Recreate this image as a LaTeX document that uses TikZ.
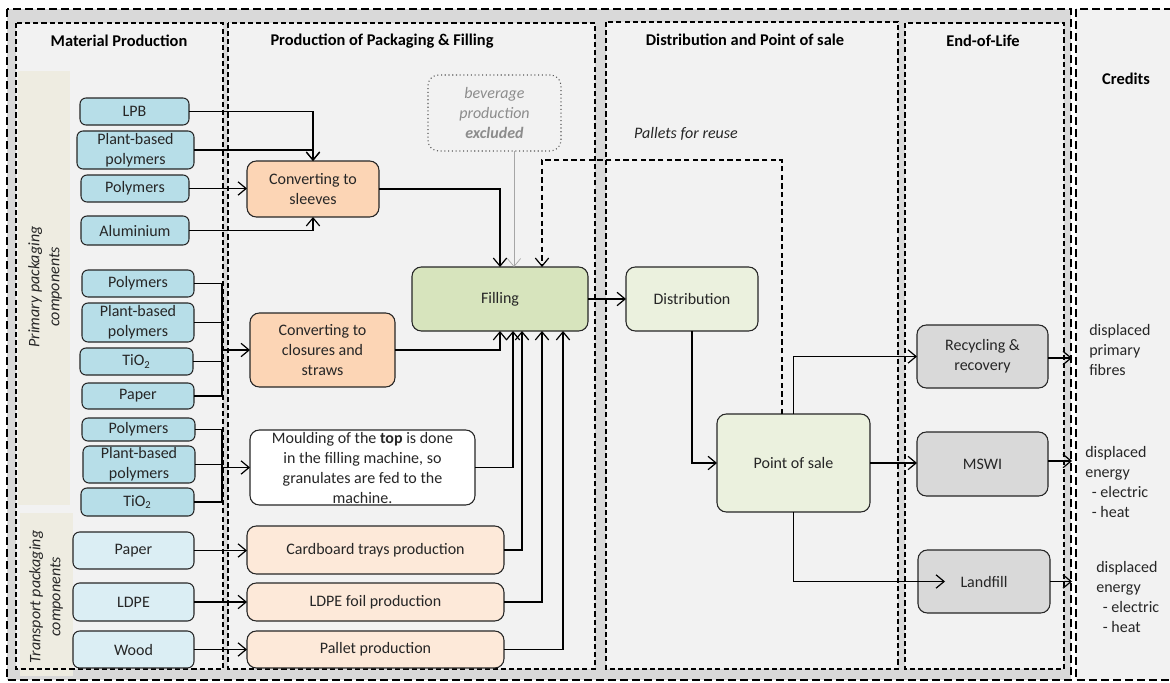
\documentclass[tikz,border=0pt]{standalone}
\usepackage{fontspec}
\setmainfont{Carlito}
\usetikzlibrary{arrows.meta,calc}
\definecolor{outerg}{HTML}{D9D9D9}
\definecolor{panelc}{HTML}{F2F2F2}
\definecolor{beigec}{HTML}{EEECE1}
\definecolor{bluec}{HTML}{B7DEE8}
\definecolor{lbluec}{HTML}{DBEEF4}
\definecolor{orangec}{HTML}{FCD5B5}
\definecolor{lorangec}{HTML}{FDE9D9}
\definecolor{greenc}{HTML}{D7E4BD}
\definecolor{lgreenc}{HTML}{EBF1DE}
\definecolor{grayc}{HTML}{D9D9D9}
\definecolor{txtc}{HTML}{262626}
\definecolor{bdrc}{HTML}{262626}
\definecolor{bevtxt}{HTML}{8C8C8C}
\definecolor{bevbdr}{HTML}{595959}
\newcommand\pbox[7]{\node[#2, minimum width={(#5-(#3))*0.75pt}, minimum height={(#6-(#4))*0.75pt}] (#1) at ({(#3+#5)/2},{(#4+#6)/2}) {#7};}
\tikzset{
  every node/.style={font=\fontsize{12}{15}\selectfont, text=txtc},
  procbox/.style={rounded corners=7pt, draw=bdrc, line width=0.8pt, inner sep=0pt, outer sep=0pt, align=center},
  matbox/.style={procbox, rounded corners=4.5pt, fill=bluec},
  tmatbox/.style={procbox, rounded corners=5pt, fill=lbluec},
  orbox/.style={procbox, fill=orangec},
  lorbox/.style={procbox, fill=lorangec},
  whbox/.style={procbox, fill=white},
  grbox/.style={procbox, fill=greenc},
  lgrbox/.style={procbox, fill=lgreenc},
  eolbox/.style={procbox, fill=grayc},
  bevbox/.style={rounded corners=8pt, draw=bevbdr, dotted, line width=0.8pt, inner sep=0pt, outer sep=0pt, align=center, text=bevtxt, font=\itshape\fontsize{12}{15}\selectfont},
  hdr/.style={font=\bfseries\fontsize{12.3}{14}\selectfont, text=black},
  sidelab/.style={rotate=90, align=center, font=\itshape\fontsize{12}{15}\selectfont},
  outerdash/.style={line width=0.9pt, dash pattern=on 6pt off 3pt, draw=black},
  paneldash/.style={line width=0.8pt, dash pattern=on 3.8pt off 2.3pt, draw=black},
  conn/.style={line width=0.9pt, draw=black},
  arr/.style={conn, -{Straight Barb[length=6pt,width=10pt,line width=0.9pt]}},
  dasharr/.style={arr, dash pattern=on 4pt off 2.5pt},
  grayarr/.style={line width=0.5pt, draw=black!35, -{Straight Barb[length=6pt,width=10pt,line width=0.5pt]}},
  credtxt/.style={align=left, anchor=west, inner sep=0pt, font=\fontsize{12}{15}\selectfont}
}
\begin{document}
\begin{tikzpicture}[x=0.75pt,y=-0.75pt]
\useasboundingbox (0,0) rectangle (1170,682);
\fill[white] (0,0) rectangle (1170,682);
% outer frames
\draw[outerdash, fill=outerg] (7,9) rectangle (1071,680);
\draw[outerdash, fill=panelc] (1076,9) rectangle (1185,680);
% panels
\fill[panelc] (16,23) rectangle (223,669);
\fill[panelc] (228,23) rectangle (595,669);
\fill[panelc] (606,22) rectangle (898,669);
\fill[panelc] (905,23) rectangle (1064,669);
\fill[beigec] (18,71) rectangle (70,505);
\fill[beigec] (20,513) rectangle (73,676);
\draw[paneldash] (16,23) rectangle (223,669);
\draw[paneldash] (228,23) rectangle (595,669);
\draw[paneldash] (606,22) rectangle (898,669);
\draw[paneldash] (905,23) rectangle (1064,669);
% headers
\node[hdr] (h1) at (119,41) {Material Production};
\node[hdr] (h2) at (382,41) {Production of Packaging \& Filling};
\node[hdr] (h3) at (745,40) {Distribution and Point of sale};
\node[hdr] (h4) at (983,41) {End-of-Life};
\node[hdr] (h5) at (1126,79) {Credits};
\node[sidelab] (plab) at (45,287) {Primary packaging\\components};
\node[sidelab] (tlab) at (46,597) {Transport packaging\\components};
% material boxes
\pbox{LPB}{matbox}{80}{98}{189}{125}{LPB}
\pbox{PBPa}{matbox}{77}{131}{194}{169}{Plant-based\\polymers}
\pbox{POLa}{matbox}{81}{175}{189}{202}{Polymers}
\pbox{ALU}{matbox}{81}{216}{189}{245}{Aluminium}
\pbox{POLb}{matbox}{82}{270}{194}{297}{Polymers}
\pbox{PBPb}{matbox}{82}{303}{194}{342}{Plant-based\\polymers}
\pbox{TIOa}{matbox}{80}{348}{193}{375}{TiO\textsubscript{2}}
\pbox{PAPa}{matbox}{82}{383}{194}{409}{Paper}
\pbox{POLc}{matbox}{82}{418}{195}{441}{Polymers}
\pbox{PBPc}{matbox}{83}{446}{195}{483}{Plant-based\\polymers}
\pbox{TIOb}{matbox}{81}{488}{194}{516}{TiO\textsubscript{2}}
\pbox{PAPb}{tmatbox}{73}{532}{194}{569}{Paper}
\pbox{LDPE}{tmatbox}{73}{583}{194}{621}{LDPE}
\pbox{WOOD}{tmatbox}{73}{631}{194}{668}{Wood}
% production boxes
\pbox{SLV}{orbox}{247}{161}{379}{217}{Converting to\\sleeves}
\pbox{CLO}{orbox}{250}{313}{395}{387}{Converting to\\closures and\\straws}
\pbox{MLD}{whbox}{250}{430}{475}{505}{Moulding of the \textbf{top} is done\\in the filling machine, so\\granulates are fed to the\\machine.}
\pbox{CTP}{lorbox}{247}{526}{504}{574}{Cardboard trays production}
\pbox{LFP}{lorbox}{247}{583}{504}{621}{LDPE foil production}
\pbox{PLP}{lorbox}{247}{631}{504}{668}{Pallet production}
\pbox{BEV}{bevbox}{428}{75}{561}{151}{beverage\\production\\\textbf{excluded}}
\pbox{FIL}{grbox}{412}{267}{588}{331}{Filling}
\pbox{DIS}{lgrbox}{626}{267}{758}{331}{Distribution}
\pbox{POS}{lgrbox}{717}{414}{870}{512}{Point of sale}
\pbox{REC}{eolbox}{917}{325}{1048}{388}{Recycling \&\\recovery}
\pbox{MSW}{eolbox}{917}{432}{1048}{496}{MSWI}
\pbox{LAN}{eolbox}{918}{550}{1050}{613}{Landfill}
% texts
\node[font=\itshape\fontsize{12}{15}\selectfont] (reuse) at (686,134) {Pallets for reuse};
\node[credtxt] (c1) at (1089,350) {displaced\\primary\\fibres};
\node[credtxt] (c2) at (1085,482) {displaced\\energy\\\hspace*{5pt}- electric\\\hspace*{5pt}- heat};
\node[credtxt] (c3) at (1096,597) {displaced\\energy\\\hspace*{5pt}- electric\\\hspace*{5pt}- heat};
% coordinates
\coordinate (g2) at (222,350);
\coordinate (g3) at (222,467.5);
\coordinate (credx) at (1072,0);
\coordinate (reuseA) at (782,160);
\coordinate (reuseB) at (542,160);
\coordinate (bevout) at ($(BEV.south)+(19.5,0)$);
\coordinate (recout) at ($(REC.east)+(0,1.5)$);
\coordinate (mswout) at ($(MSW.east)+(0,-3)$);
\coordinate (lanin) at ($(LAN.west)+(27,0)$);
\coordinate (fin1) at ($(FIL.south)+(13,0)$);
\coordinate (fin2) at ($(FIL.south)+(22,0)$);
\coordinate (fin3) at ($(FIL.south)+(42,0)$);
\coordinate (fin4) at ($(FIL.south)+(63,0)$);
% connectors group 1
\draw[arr] (LPB.east) -| (SLV.north);
\draw[arr] (PBPa.east) -| (SLV.north);
\draw[arr] (POLa.east) -- (POLa.east -| SLV.west);
\draw[arr] (ALU.east) -| (SLV.south);
\draw[arr] (SLV.east) -| (FIL.north);
\draw[grayarr] (bevout) -- (bevout |- FIL.north);
\draw[dasharr] (reuseA |- POS.north) -- (reuseA) -- (reuseB) -- (reuseB |- FIL.north);
% group 2
\draw[conn] (POLb.east) -- (POLb.east -| g2);
\draw[conn] (PBPb.east) -- (PBPb.east -| g2);
\draw[conn] (TIOa.east) -- (TIOa.east -| g2);
\draw[conn] (PAPa.east) -- (PAPa.east -| g2);
\draw[conn] (POLb.east -| g2) -- (PAPa.east -| g2);
\draw[arr] (g2) -- (CLO.west);
\draw[arr] (CLO.east) -| (FIL.south);
% group 3
\draw[conn] (POLc.east) -- (POLc.east -| g3);
\draw[conn] (PBPc.east) -- (PBPc.east -| g3);
\draw[conn] (TIOb.east) -- (TIOb.east -| g3);
\draw[conn] (POLc.east -| g3) -- (TIOb.east -| g3);
\draw[arr] (g3) -- (MLD.west);
\draw[arr] (MLD.east) -| (fin1);
% transport
\draw[arr] (PAPb.east) -- (PAPb.east -| CTP.west);
\draw[arr] (LDPE.east) -- (LDPE.east -| LFP.west);
\draw[arr] (WOOD.east) -- (WOOD.east -| PLP.west);
\draw[arr] (CTP.east) -| (fin2);
\draw[arr] (LFP.east) -| (fin3);
\draw[arr] (PLP.east) -| (fin4);
% distribution and EoL
\draw[arr] (FIL.east) -- (DIS.west);
\draw[arr] (DIS.south) |- (POS.west);
\draw[arr] (POS.north) |- (REC.west);
\draw[arr] (POS.east) -- (POS.east -| MSW.west);
\draw[arr] (POS.south) |- (lanin);
\draw[arr] (recout) -- (recout -| credx);
\draw[arr] (mswout) -- (mswout -| credx);
\draw[arr] (LAN.east) -- (LAN.east -| credx);
\end{tikzpicture}
\end{document}
